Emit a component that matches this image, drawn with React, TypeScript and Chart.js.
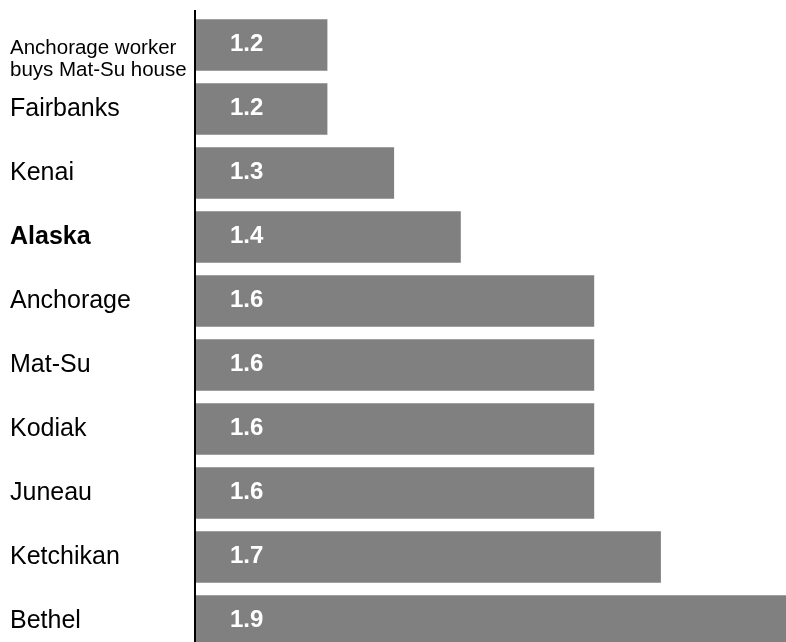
import React, { useEffect, useRef } from "react";
import { Chart, registerables } from "chart.js";

Chart.register(...registerables);

const categories: string[][] = [
  ["Anchorage worker", "buys Mat-Su house"],
  ["Fairbanks"],
  ["Kenai"],
  ["Alaska"],
  ["Anchorage"],
  ["Mat-Su"],
  ["Kodiak"],
  ["Juneau"],
  ["Ketchikan"],
  ["Bethel"],
];
const values: number[] = [1.2, 1.2, 1.3, 1.4, 1.6, 1.6, 1.6, 1.6, 1.7, 1.9];
const boldCategory = "Alaska";
const axisMin = 1.0;
const axisMax = 2.0;

const FONT = "'Liberation Sans', Arial, Helvetica, sans-serif";

const labelPlugin = {
  id: "customLabels",
  afterDatasetsDraw(chart: any) {
    const { ctx, chartArea, scales } = chart;
    const xs = scales.x;
    const ys = scales.y;
    ctx.save();
    // axis line
    ctx.fillStyle = "#000000";
    ctx.fillRect(chartArea.left, 10, 2, chart.height);
    // category labels
    ctx.textAlign = "left";
    ctx.textBaseline = "alphabetic";
    categories.forEach((lines, i) => {
      const yc = ys.getPixelForValue(i);
      ctx.fillStyle = "#000000";
      if (lines.length > 1) {
        ctx.font = `20.5px ${FONT}`;
        lines.forEach((ln, j) => {
          ctx.fillText(ln, 10, yc + 8.5 + j * 22.4);
        });
      } else {
        const bold = lines[0] === boldCategory;
        ctx.font = `${bold ? "bold " : ""}25px ${FONT}`;
        ctx.fillText(lines[0], 10, yc + 6.5);
      }
    });
    // value labels
    ctx.fillStyle = "#ffffff";
    ctx.font = `bold 24px ${FONT}`;
    const x0 = xs.getPixelForValue(axisMin);
    values.forEach((v, i) => {
      const yc = ys.getPixelForValue(i);
      ctx.fillText(v.toFixed(1), x0 + 36, yc + 6.3);
    });
    ctx.restore();
  },
};

export default function App() {
  const ref = useRef<HTMLCanvasElement | null>(null);
  useEffect(() => {
    if (!ref.current) return;
    const chart = new Chart(ref.current, {
      type: "bar",
      data: {
        labels: categories.map((c) => c.join(" ")),
        datasets: [
          {
            data: values,
            backgroundColor: "#808080",
            borderWidth: 0,
            barPercentage: 0.807,
            categoryPercentage: 1,
          },
        ],
      },
      options: {
        indexAxis: "y",
        animation: false,
        responsive: false,
        maintainAspectRatio: false,
        devicePixelRatio: 1,
        layout: { padding: { left: 194, right: 9, top: 13, bottom: 7 } },
        plugins: {
          legend: { display: false },
          tooltip: { enabled: false },
        },
        scales: {
          x: { display: false, min: axisMin, max: axisMax },
          y: { display: false, offset: true },
        },
      },
      plugins: [labelPlugin],
    });
    return () => chart.destroy();
  }, []);
  return (
    <div
      style={{
        position: "absolute",
        left: 0,
        top: 0,
        width: 786,
        height: 642,
        overflow: "hidden",
        background: "#ffffff",
      }}
    >
      <canvas ref={ref} width={870} height={660} style={{ width: 870, height: 660, display: "block" }} />
    </div>
  );
}
